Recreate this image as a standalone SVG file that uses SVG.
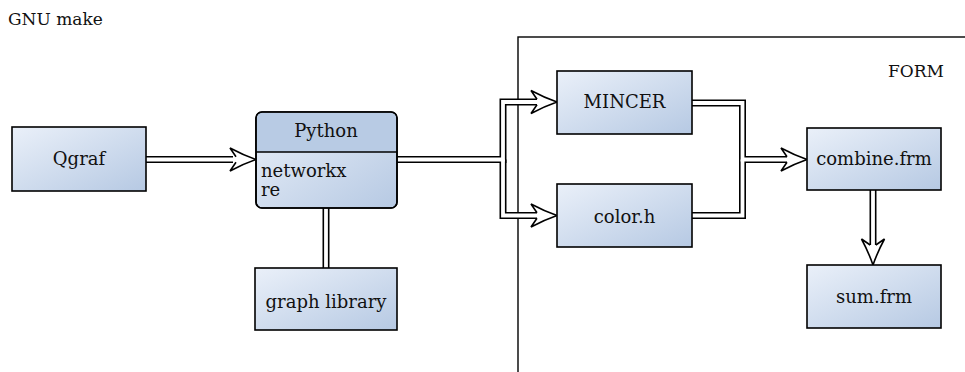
<svg xmlns="http://www.w3.org/2000/svg" xmlns:xlink="http://www.w3.org/1999/xlink" width="965" height="372" viewBox="0 0 965 372">
<defs>
<linearGradient id="g" x1="0" y1="0" x2="1" y2="1">
<stop offset="0" stop-color="#eaf0f9"/>
<stop offset="1" stop-color="#b6c9e3"/>
</linearGradient>
<path id="ah" d="M -20,-2.8 L -26,-11.5 Q -13,-4.5 0,0 Q -13,4.5 -26,11.5 L -20,2.8" fill="#fff" stroke="#000" stroke-width="1.6" stroke-linejoin="miter"/>
</defs>
<style>
text{font-family:"DejaVu Serif","Liberation Serif",serif;font-size:18px;fill:#111}
.c{text-anchor:middle}
.box{fill:url(#g);stroke:#000;stroke-width:1.6}
.ob{fill:none;stroke:#000;stroke-width:7;stroke-linejoin:miter}
.ib{fill:none;stroke:#fff;stroke-width:3.8;stroke-linejoin:miter}
</style>
<rect width="965" height="372" fill="#fff"/>
<text x="8" y="25" style="font-size:17px">GNU make</text>
<g id="form">
<rect x="518" y="37" width="470" height="360" fill="none" stroke="#000" stroke-width="1.4"/>
<text x="944" y="77" text-anchor="end" style="font-size:17px">FORM</text>
</g>
<g id="connectors">
<g class="ob">
<path d="M146,159.5 H233"/>
<path d="M397,159.5 H503 V102 H538"/>
<path d="M503,159.5 V215.5 H538"/>
<path d="M326,208 V268"/>
<path d="M692,103 H742.5 V159.5 H788"/>
<path d="M692,215.5 H742.5 V159.5"/>
<path d="M873,190 V246"/>
</g>
<g class="ib">
<path d="M146,159.5 H233"/>
<path d="M397,159.5 H503 V102 H538"/>
<path d="M503,159.5 V215.5 H538"/>
<path d="M326,208 V268"/>
<path d="M692,103 H742.5 V159.5 H788"/>
<path d="M692,215.5 H742.5 V159.5"/>
<path d="M873,190 V246"/>
</g>
<use xlink:href="#ah" transform="translate(256,159.5)"/>
<use xlink:href="#ah" transform="translate(557,102)"/>
<use xlink:href="#ah" transform="translate(557,215.5)"/>
<use xlink:href="#ah" transform="translate(807,159.5)"/>
<use xlink:href="#ah" transform="translate(873,265) rotate(90)"/>
</g>
<g id="qgraf">
<rect class="box" x="12" y="127" width="134" height="64"/>
<text class="c" x="79" y="165">Qgraf</text>
</g>
<g id="python">
<rect class="box" x="256" y="112" width="141" height="96" rx="6"/>
<path d="M256.8,152 V118 a5.2,5.2 0 0 1 5.2,-5.2 H391 a5.2,5.2 0 0 1 5.2,5.2 V152 Z" fill="#b8cbe4"/>
<rect x="256" y="112" width="141" height="96" rx="6" fill="none" stroke="#000" stroke-width="1.6"/>
<line x1="256" y1="152" x2="397" y2="152" stroke="#000" stroke-width="1.4"/>
<text class="c" x="326" y="137">Python</text>
<text x="261" y="177">networkx</text>
<text x="261" y="196">re</text>
</g>
<g id="graphlib">
<rect class="box" x="255" y="268" width="142" height="62"/>
<text class="c" x="326" y="308">graph library</text>
</g>
<g id="mincer">
<rect class="box" x="557" y="71" width="135" height="63"/>
<text class="c" x="624.5" y="108">MINCER</text>
</g>
<g id="colorh">
<rect class="box" x="557" y="184" width="135" height="63"/>
<text class="c" x="624.5" y="223">color.h</text>
</g>
<g id="combine">
<rect class="box" x="807" y="128" width="134" height="62"/>
<text class="c" x="874" y="165">combine.frm</text>
</g>
<g id="sum">
<rect class="box" x="807" y="265" width="134" height="63"/>
<text class="c" x="874" y="303">sum.frm</text>
</g>
</svg>
